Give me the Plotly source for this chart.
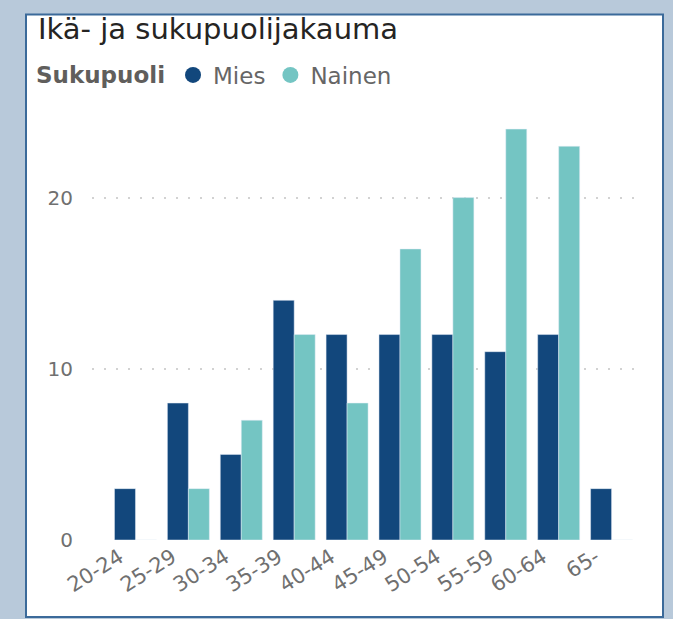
import plotly.graph_objects as go

categories = ["20-24", "25-29", "30-34", "35-39", "40-44", "45-49", "50-54", "55-59", "60-64", "65-"]
mies = [3, 8, 5, 14, 12, 12, 12, 11, 12, 3]
nainen = [0, 3, 7, 12, 8, 17, 20, 24, 23, 0]
y_ticks = [0, 10, 20]

C_MIES = "#12477C"
C_NAINEN = "#74C5C3"
FONT = "DejaVu Sans"

# plot-area geometry in pixels (for converting paper coordinates)
L, R, T, B = 92, 643, 112, 540
PW, PH = R - L, B - T

def px(x):
    return (x - L) / PW

def py(y):
    return (B - y) / PH

fig = go.Figure()
fig.add_trace(go.Bar(x=categories, y=mies, name="Mies", marker_color=C_MIES, showlegend=False))
fig.add_trace(go.Bar(x=categories, y=nainen, name="Nainen", marker_color=C_NAINEN, showlegend=False))
fig.add_trace(go.Scatter(x=[None], y=[None], mode="markers", name="Mies",
                         marker=dict(color=C_MIES, size=18, symbol="circle")))
fig.add_trace(go.Scatter(x=[None], y=[None], mode="markers", name="Nainen",
                         marker=dict(color=C_NAINEN, size=18, symbol="circle")))

fig.update_layout(
    width=673, height=619,
    paper_bgcolor="#B8C9DA",
    plot_bgcolor="white",
    margin=dict(l=L, r=673 - R, t=T, b=619 - B, autoexpand=False),
    barmode="group",
    bargap=0.206,
    bargroupgap=0,
    font=dict(family=FONT, color="#666666", size=17),
    title=dict(text="Ikä- ja sukupuolijakauma", x=38 / 673, xanchor="left",
               y=1 - 29 / 619, yanchor="middle", yref="container",
               font=dict(family=FONT, size=29, color="#252423")),
    legend=dict(orientation="h", x=px(34), xanchor="left", y=py(75), yanchor="middle",
                title=dict(text="<b>Sukupuoli</b>", font=dict(size=23, color="#605E5C")),
                font=dict(size=23, color="#666666"), itemwidth=30,
                bgcolor="rgba(0,0,0,0)"),
    shapes=[dict(type="rect", xref="paper", yref="paper", layer="below",
                 x0=px(26), x1=px(663), y0=py(617), y1=py(14.5),
                 fillcolor="white", line=dict(color="#3B6A9A", width=2))],
)
fig.update_xaxes(range=[-0.822, 9.594], tickangle=-32, showgrid=False, showline=False,
                 ticks="", tickfont=dict(size=21, color="#707070"), ticklabelshift=-16)
fig.update_yaxes(range=[0, 25], tickvals=y_ticks, showgrid=True, gridcolor="#D2D2D2",
                 griddash="2px,10px", gridwidth=1.5, zeroline=False, showline=False, ticks="",
                 tickfont=dict(size=20, color="#707070"), ticklabelstandoff=18)
fig.write_html("out.html", config={"displayModeBar": False},
               post_script="document.body.style.margin='0';")
